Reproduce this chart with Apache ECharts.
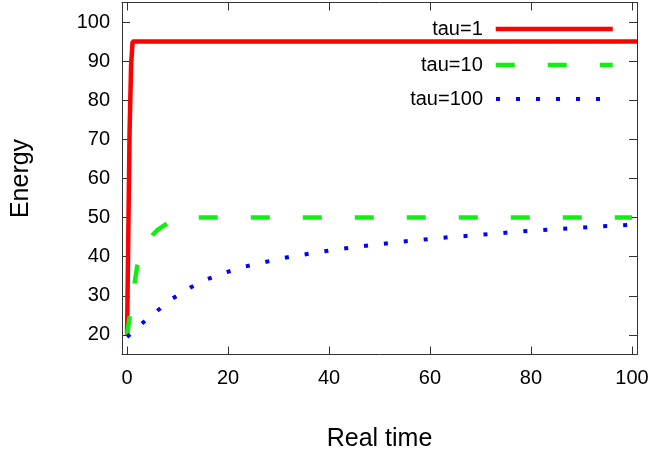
<!DOCTYPE html>
<html>
<head>
<meta charset="utf-8">
<script src="https://cdn.jsdelivr.net/npm/echarts@6/dist/echarts.min.js"></script>
<style>
html,body{margin:0;padding:0;background:#fff;}
#chart{width:653px;height:453px;}
</style>
</head>
<body>
<div id="chart"></div>
<script>
// ---- data ----
const xTicks = [0, 20, 40, 60, 80, 100];
const yTicks = [20, 30, 40, 50, 60, 70, 80, 90, 100];
const seriesNames = ['tau=1', 'tau=10', 'tau=100'];
const tau1 = [[0, 20], [0.5, 72], [0.8, 89], [1.1, 95], [101, 95]];
const tau10 = [[0, 20], [1, 29], [2, 37.5], [3, 41.5], [4, 43.8], [5, 45.5], [6, 46.8], [7, 47.7], [8, 48.5], [9, 49.2], [10, 49.7], [12, 50], [100, 50]];
const tau100 = [[0, 19.5], [3, 23], [6, 26.2], [9, 29.3], [12.5, 32.1], [16, 34.3], [19.6, 36], [23.4, 37.5], [31, 39.7], [39, 41.4], [46.5, 42.7], [54, 43.8], [62, 44.8], [70, 45.6], [77.5, 46.4], [85.4, 47.1], [93, 47.7], [100, 48.2]];

const FONT = 'Liberation Sans, Arial, Helvetica, sans-serif';
const AX = '#333';

const chart = echarts.init(document.getElementById('chart'), null, {renderer: 'canvas'});

function xAx(pos, show) {
  return {
    type: 'value', position: pos, min: -1, max: 101,
    axisLine: {show: true, onZero: false, lineStyle: {color: AX, width: 1}},
    axisTick: {show: true, inside: true, length: 8, customValues: xTicks, lineStyle: {color: AX}},
    axisLabel: {show: show, customValues: xTicks, fontSize: 20, fontFamily: FONT, color: '#000', margin: 14},
    splitLine: {show: false},
    name: show ? 'Real time' : '', nameLocation: 'middle', nameGap: 72,
    nameTextStyle: {fontSize: 25, fontFamily: FONT, color: '#000'}
  };
}
function yAx(pos, show) {
  return {
    type: 'value', position: pos, min: 15, max: 105,
    axisLine: {show: true, onZero: false, lineStyle: {color: AX, width: 1}},
    axisTick: {show: true, inside: true, length: 8, customValues: yTicks, lineStyle: {color: AX}},
    axisLabel: {show: show, customValues: yTicks, fontSize: 20, fontFamily: FONT, color: '#000', margin: 12},
    splitLine: {show: false},
    name: show ? 'Energy' : '', nameLocation: 'middle', nameGap: 88, nameRotate: 90,
    nameTextStyle: {fontSize: 25, fontFamily: FONT, color: '#000'}
  };
}

function legendFor(name, top, w) {
  return {
    data: [name], right: 38, top: top, padding: 0,
    itemWidth: 117, itemHeight: 20, align: 'right', selectedMode: false,
    itemStyle: {opacity: 0},
    lineStyle: {width: w},
    textStyle: {fontSize: 20, fontFamily: FONT, color: '#000', padding: [0, 8, 0, 0]}
  };
}

chart.setOption({
  animation: false,
  backgroundColor: '#fff',
  grid: {left: 122, right: 16, top: 2.5, bottom: 98.5, containLabel: false, outerBoundsMode: 'none'},
  xAxis: [xAx('bottom', true), xAx('top', false)],
  yAxis: [yAx('left', true), yAx('right', false)],
  legend: [legendFor(seriesNames[0], 19, 4.5), legendFor(seriesNames[1], 55, 4.5), legendFor(seriesNames[2], 89, 4)],
  series: [
    {name: seriesNames[0], type: 'line', data: tau1, symbol: 'none', clip: true,
     color: '#ff0000', lineStyle: {color: '#ff0000', width: 4.5}},
    {name: seriesNames[1], type: 'line', data: tau10, symbol: 'none', clip: true,
     color: '#11ee11', lineStyle: {color: '#11ee11', width: 4.5, type: [19, 33]}},
    {name: seriesNames[2], type: 'line', data: tau100, symbol: 'none', clip: true,
     color: '#0000ff', lineStyle: {color: '#0000ff', width: 4, type: [4, 16]}}
  ]
});
</script>
</body>
</html>
